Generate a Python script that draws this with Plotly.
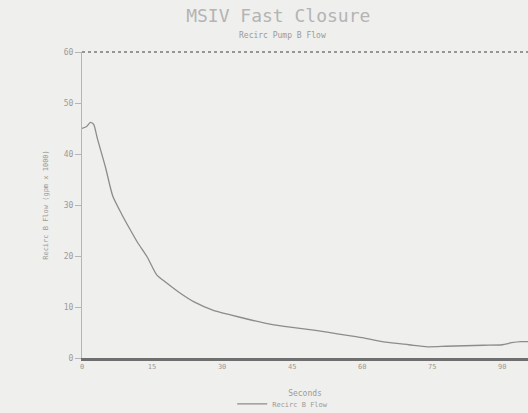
import plotly.graph_objects as go

seconds = [0, 1, 1.8, 2.5, 3.3, 5, 6.6, 8.5, 10.3, 12, 13.9, 16, 18, 20.9, 24, 28, 31.6,
           36, 40, 45, 50, 55, 60, 65, 70, 74, 78, 82, 86, 90, 92, 94, 95.5]
flow = [45.0, 45.4, 46.2, 45.8, 43.0, 37.5, 31.7, 28.2, 25.2, 22.5, 19.9, 16.3, 14.8,
        12.8, 11.0, 9.4, 8.5, 7.5, 6.7, 6.0, 5.4, 4.7, 4.0, 3.1, 2.6, 2.2, 2.3, 2.4,
        2.5, 2.6, 3.0, 3.2, 3.2]
x_ticks = [0, 15, 30, 45, 60, 75, 90]
y_ticks = [0, 10, 20, 30, 40, 50, 60]

txt = "#9a9a9a"
font = "DejaVu Sans Mono"

fig = go.Figure()
fig.add_trace(go.Scatter(x=seconds, y=flow, mode="lines", name="Recirc B Flow",
                         line=dict(color="#8c8c8c", width=1.3, shape="spline", smoothing=0.6)))

fig.update_layout(
    width=528, height=413,
    paper_bgcolor="#efefed", plot_bgcolor="#efefed",
    margin=dict(l=82, r=0, t=52, b=55, autoexpand=False),
    font=dict(family=font, color=txt, size=8),
    showlegend=True,
    legend=dict(orientation="h", x=0.45, xanchor="center", y=-0.15, yanchor="middle",
                font=dict(size=7, color=txt), bgcolor="rgba(0,0,0,0)", itemwidth=30),
    title=dict(text="MSIV Fast Closure", x=0.527, xanchor="center", y=0.962, yanchor="middle",
               font=dict(family=font, size=18, color="#b4b4b4")),
    annotations=[dict(text="Recirc Pump B Flow", xref="paper", yref="paper", x=0.45, y=1.055,
                      yanchor="middle", showarrow=False, font=dict(size=8, color=txt))],
    shapes=[dict(type="line", xref="paper", yref="paper", x0=0, x1=1, y0=1, y1=1,
                 line=dict(color="#7a7a7a", width=1.5, dash="dot"))],
)
fig.update_xaxes(range=[0, 95.5], tickvals=x_ticks, showgrid=False, zeroline=False,
                 showline=True, linecolor="#6e6e6e", linewidth=2.5,
                 ticks="", ticklen=0, tickfont=dict(size=7, color=txt),
                 title=dict(text="Seconds", font=dict(size=8, color=txt), standoff=21))
fig.update_yaxes(range=[0, 60], tickvals=y_ticks, showgrid=False, zeroline=False,
                 showline=True, linecolor="#b5b5b5", linewidth=1,
                 ticks="outside", ticklen=6, tickcolor="#b5b5b5",
                 tickfont=dict(size=8, color=txt),
                 title=dict(text="Recirc B Flow (gpm x 1000)", font=dict(size=7, color=txt),
                            standoff=14))

fig.write_html("out.html", config={"displayModeBar": False},
               post_script="document.body.style.margin='0';document.body.style.background='#efefed';")
